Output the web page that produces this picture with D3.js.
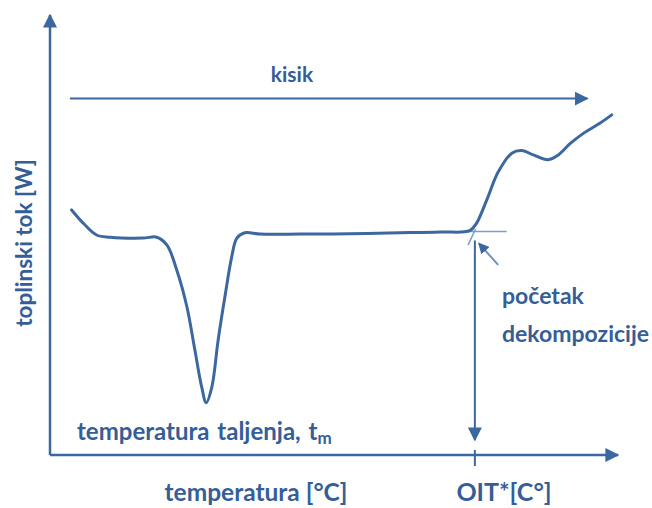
<!DOCTYPE html>
<html>
<head>
<meta charset="utf-8">
<script src="https://cdn.jsdelivr.net/npm/d3@7"></script>
<style>
  body { margin: 0; background: #fff; }
  text { font-family: Lato, "Open Sans", sans-serif; font-weight: bold; fill: #355e98; }
</style>
</head>
<body>
<svg id="chart" width="652" height="508"></svg>
<script>
// DSC curve (arbitrary units, 0-100 on both axes)
var temp = [3.8, 6.0, 8.2, 10.6, 16.4, 18.8, 20.6, 22.3, 24.1, 25.5, 26.7, 27.5, 28.5, 29.6, 30.8, 32.0, 32.9, 34.3, 37.0, 44.0, 52.8, 61.6, 68.7, 73.9, 75.1, 76.9, 78.9, 81.3, 83.1, 85.1, 87.7, 89.5, 91.6, 93.9, 96.8, 98.9];
var flow = [55.7, 52.5, 50.0, 49.5, 49.3, 49.5, 47.7, 42.1, 33.7, 23.9, 15.5, 11.9, 15.5, 26.1, 36.0, 45.1, 49.3, 50.5, 50.2, 50.2, 50.3, 50.5, 50.7, 51.0, 52.7, 58.0, 64.3, 68.6, 69.2, 68.2, 67.1, 68.2, 70.8, 73.1, 75.4, 77.3];

var oit = 74.8;          // onset of decomposition
var onsetFlow = 50.8;    // baseline level at the onset
var oxygenLevel = 81.0;  // "kisik" arrow height
var oxygenRange = [3.5, 94.6];
var tangentRange = [73.0, 80.4];
var slopeExt = [[73.6, 47.7], [74.9, 51.3]];
var pointer = [[78.9, 43.2], [75.5, 48.1]];

var labels = {
    y: "toplinski tok [W]",
    oxygen: "kisik",
    melt: "temperatura taljenja, t",
    meltSub: "m",
    xAxis: "temperatura [°C]",
    oitLabel: "OIT*[C°]",
    onset: ["početak", "dekompozicije"]
};

var svg = d3.select("#chart");
var blue = "#3d679f";
var light = "#7d9cc8";

var x = d3.scaleLinear().domain([0, 100]).range([50, 618]);
var y = d3.scaleLinear().domain([0, 100]).range([455, 15]);

var defs = svg.append("defs");
function marker(id, size, color) {
    defs.append("marker")
        .attr("id", id)
        .attr("viewBox", "0 0 10 10")
        .attr("refX", 9).attr("refY", 5)
        .attr("markerWidth", size).attr("markerHeight", size)
        .attr("markerUnits", "userSpaceOnUse")
        .attr("orient", "auto")
        .append("path")
        .attr("d", "M0,0 L10,5 L0,10 z")
        .attr("fill", color);
}
marker("arr", 14, blue);
marker("arrSmall", 11, blue);

// axes
svg.append("line")
    .attr("x1", x(0)).attr("y1", y(0))
    .attr("x2", x(0)).attr("y2", y(100))
    .attr("stroke", blue).attr("stroke-width", 2.5)
    .attr("marker-end", "url(#arr)");
svg.append("line")
    .attr("x1", x(0)).attr("y1", y(0))
    .attr("x2", x(100)).attr("y2", y(0))
    .attr("stroke", blue).attr("stroke-width", 2.5)
    .attr("marker-end", "url(#arr)");

// OIT tick
svg.append("line")
    .attr("x1", x(oit)).attr("x2", x(oit))
    .attr("y1", y(0) - 5).attr("y2", y(0) + 11)
    .attr("stroke", blue).attr("stroke-width", 2);

// oxygen arrow
svg.append("line")
    .attr("x1", x(oxygenRange[0])).attr("x2", x(oxygenRange[1]))
    .attr("y1", y(oxygenLevel)).attr("y2", y(oxygenLevel))
    .attr("stroke", blue).attr("stroke-width", 2)
    .attr("marker-end", "url(#arr)");

// baseline tangent and slope extension
svg.append("line")
    .attr("x1", x(tangentRange[0])).attr("x2", x(tangentRange[1]))
    .attr("y1", y(onsetFlow)).attr("y2", y(onsetFlow))
    .attr("stroke", light).attr("stroke-width", 1.5);
svg.append("line")
    .attr("x1", x(slopeExt[0][0])).attr("y1", y(slopeExt[0][1]))
    .attr("x2", x(slopeExt[1][0])).attr("y2", y(slopeExt[1][1]))
    .attr("stroke", light).attr("stroke-width", 1.5);

// vertical arrow down to OIT
svg.append("line")
    .attr("x1", x(oit)).attr("x2", x(oit))
    .attr("y1", y(onsetFlow) + 9).attr("y2", y(3.4))
    .attr("stroke", blue).attr("stroke-width", 2)
    .attr("marker-end", "url(#arr)");

// small pointer arrow
svg.append("line")
    .attr("x1", x(pointer[0][0])).attr("y1", y(pointer[0][1]))
    .attr("x2", x(pointer[1][0])).attr("y2", y(pointer[1][1]))
    .attr("stroke", "#6f90bf").attr("stroke-width", 2)
    .attr("marker-end", "url(#arrSmall)");

// curve
var line = d3.line()
    .x(function(d, i) { return x(temp[i]); })
    .y(function(d) { return y(d); })
    .curve(d3.curveCatmullRom.alpha(0.5));

svg.append("path")
    .datum(flow)
    .attr("d", line)
    .attr("fill", "none")
    .attr("stroke", blue)
    .attr("stroke-width", 3)
    .attr("stroke-linecap", "round")
    .attr("stroke-linejoin", "round");

// texts
svg.append("text")
    .attr("x", 292).attr("y", 82)
    .attr("text-anchor", "middle")
    .style("font-size", "21px")
    .text(labels.oxygen);

svg.append("text")
    .attr("transform", "translate(32,243) rotate(-90)")
    .attr("text-anchor", "middle")
    .style("font-size", "22.5px")
    .text(labels.y);

var melt = svg.append("text")
    .attr("x", 77).attr("y", 440)
    .style("font-size", "24px")
    .style("word-spacing", "2px")
    .text(labels.melt);
melt.append("tspan")
    .attr("dy", 4)
    .style("font-size", "17px")
    .text(labels.meltSub);

svg.append("text")
    .attr("x", 256).attr("y", 501)
    .attr("text-anchor", "middle")
    .style("font-size", "24.5px")
    .text(labels.xAxis);

svg.append("text")
    .attr("x", 504).attr("y", 501)
    .attr("text-anchor", "middle")
    .style("font-size", "25px")
    .text(labels.oitLabel);

svg.selectAll(".onset")
    .data(labels.onset)
    .enter().append("text")
    .attr("class", "onset")
    .attr("x", 502)
    .attr("y", function(d, i) { return 304 + i * 38; })
    .style("font-size", "23px")
    .text(function(d) { return d; });
</script>
</body>
</html>
